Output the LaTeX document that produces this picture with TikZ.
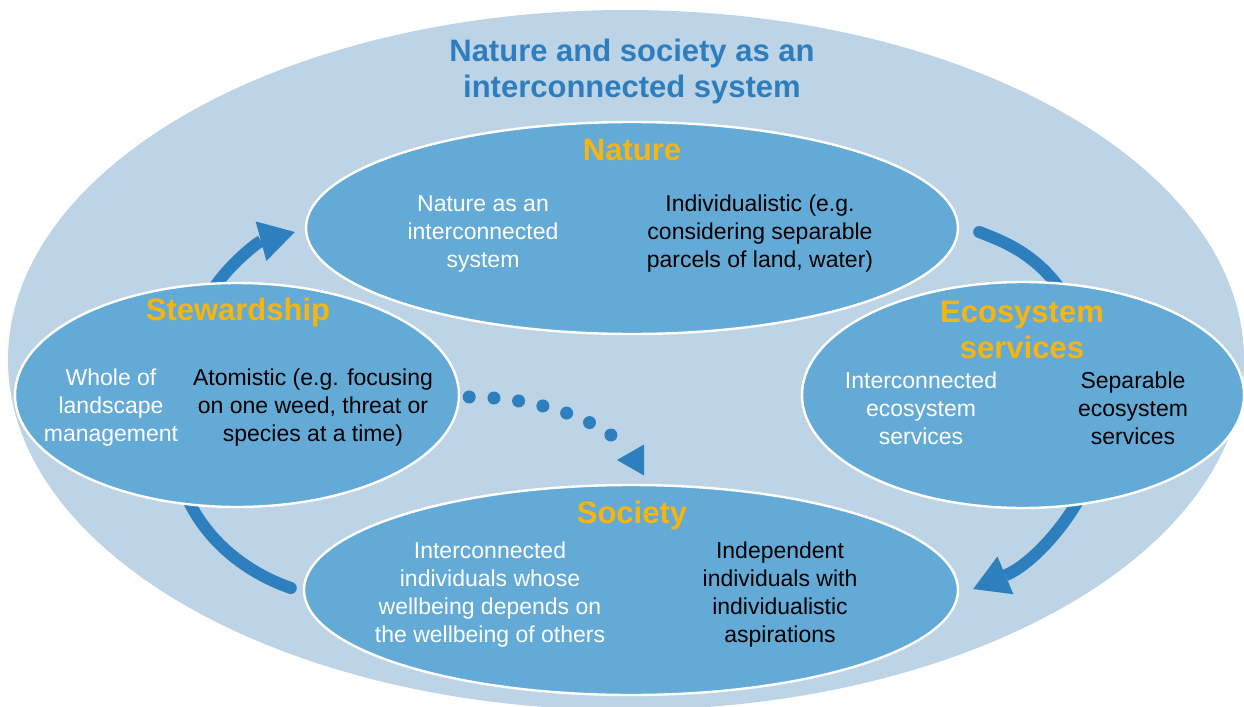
\documentclass[tikz,border=0pt]{standalone}
\usepackage{fontspec}
\setmainfont{Liberation Sans}
\usetikzlibrary{shapes.geometric,arrows.meta}
\definecolor{outerblue}{HTML}{BDD4E6}
\definecolor{innerblue}{HTML}{64AAD6}
\definecolor{arrowblue}{HTML}{2D80BD}
\definecolor{titleblue}{HTML}{2E7EBF}
\definecolor{labelgold}{HTML}{F7B50F}
\pgfdeclarelayer{back}
\pgfdeclarelayer{mid}
\pgfsetlayers{back,mid,main}
\tikzset{
  part/.style={ellipse, fill=innerblue, draw=white, line width=1.2pt, inner sep=0pt},
  heading/.style={font=\fontsize{15.5}{18}\selectfont\bfseries, text=labelgold, align=center},
  whitetext/.style={font=\fontsize{11.5}{14}\selectfont, text=white, align=center},
  blacktext/.style={font=\fontsize{11.5}{14}\selectfont, text=black, align=center},
  cyclearrow/.style={draw=arrowblue, line width=6pt, -{Triangle[length=17.5pt,width=20.5pt,line width=0pt]}},
  cycleband/.style={draw=arrowblue, line width=6pt, line cap=round},
  dotline/.style={draw=arrowblue, line width=6.5pt, line cap=round, dash pattern=on 0pt off 12.4pt},
}
\begin{document}
\begin{tikzpicture}[x=0.5pt, y=-0.5pt]
            \useasboundingbox (0,0) rectangle (1244,707);

            %whole system
            \begin{pgfonlayer}{back}
            \node[ellipse, fill=outerblue, minimum width=618pt, minimum height=350pt, inner sep=0pt] (system) at (626,360) {};
            \end{pgfonlayer}

            \node[font=\fontsize{15.5}{18}\selectfont\bfseries, text=titleblue, align=center] (title) at (632,71) {Nature and society as an\\interconnected system};

            %nature
            \node[part, minimum width=326pt, minimum height=106pt] (nature) at (632,228) {};

            \node[heading] (naturehead) at (632,150) {Nature};

            \node[whitetext] (naturewhole) at (483,234) {Nature as an\\interconnected\\system};

            \node[blacktext] (natureparts) at (760,234) {Individualistic (e.g.\\considering separable\\parcels of land, water)};

            %stewardship
            \node[part, minimum width=222pt, minimum height=112pt] (stew) at (237,395) {};

            \node[heading] (stewhead) at (238,312) {Stewardship};

            \node[whitetext] (stewwhole) at (111,408) {Whole of\\landscape\\management};

            \node[blacktext] (stewparts) at (313,408) {Atomistic (e.g. focusing\\on one weed, threat or\\species at a time)};

            %ecosystem services
            \node[part, minimum width=221pt, minimum height=113pt] (eco) at (1023,395) {};

            \node[heading] (ecohead) at (1022,330) {Ecosystem\\services};

            \node[whitetext] (ecowhole) at (921,408) {Interconnected\\ecosystem\\services};

            \node[blacktext] (ecoparts) at (1133,408) {Separable\\ecosystem\\services};

            %society
            \node[part, minimum width=327pt, minimum height=105pt] (soc) at (631,590) {};

            \node[heading] (sochead) at (632,515) {Society};

            \node[whitetext] (socwhole) at (490,595) {Interconnected\\individuals whose\\wellbeing depends on\\the wellbeing of others};

            \node[blacktext] (socparts) at (780,595) {Independent\\individuals with\\individualistic\\aspirations};

            %cycle
            \coordinate (dotend) at (615,438);
            \coordinate (dottip) at (617,460);

            \begin{pgfonlayer}{mid}
            \draw[cyclearrow] ([shift={(-6,10)}]stew.100) .. controls (228,265) and (258,242) .. ([shift={(-10,4)}]nature.west);

            \draw[cycleband] ([shift={(20,4)}]nature.east) .. controls (1005,242) and (1040,255) .. ([shift={(45,20)}]eco.north);

            \draw[cyclearrow] ([shift={(57,-12)}]eco.south) .. controls (1062,530) and (1030,565) .. ([shift={(14,-1)}]soc.east);

            \draw[cycleband] ([shift={(-12,-2)}]soc.west) .. controls (245,572) and (205,540) .. ([shift={(-52,-15)}]stew.south);

            \draw[dotline] ([shift={(9,2)}]stew.east) .. controls (530,397) and (585,415) .. (dotend);

            \fill[arrowblue] (dottip) -- ++(27,-15.5) -- ++(0,31) -- cycle;
            \end{pgfonlayer}
        \end{tikzpicture}
\end{document}
